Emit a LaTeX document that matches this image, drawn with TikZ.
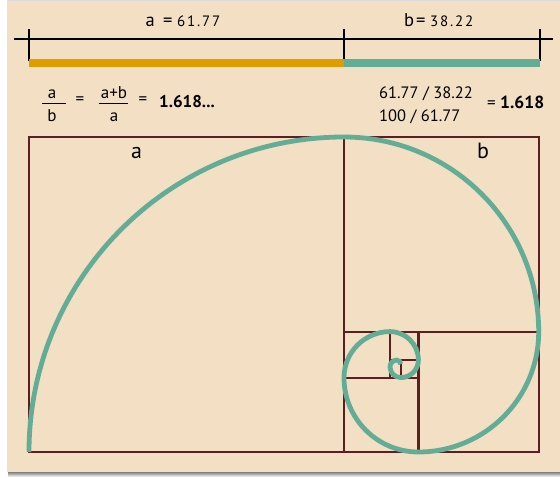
\documentclass[tikz,border=0pt]{standalone}
\usepackage{fontspec}
\setmainfont{PT Sans}
\usetikzlibrary{positioning}
\definecolor{paper}{RGB}{242,223,196}
\definecolor{gold}{RGB}{222,158,0}
\definecolor{sea}{RGB}{99,173,151}
\definecolor{maroon}{RGB}{92,30,34}
\definecolor{shade}{RGB}{208,202,208}
\newcommand{\fs}[1]{\fontsize{#1}{#1}\selectfont}
\newcommand{\wide}{\addfontfeature{LetterSpace=12}}

\begin{document}
\begin{tikzpicture}[x=1pt, y=-1pt, every node/.style={inner sep=0pt},
          sq/.style={draw=maroon, line width=2.2pt},
          spiral/.style={draw=sea, line width=4.8pt},
          tick/.style={draw=black, line width=1.7pt},
          bar/.style={line width=8pt},
          fbar/.style={draw=black, line width=0.9pt},
          num/.style={font=\fs{15}\wide},
          ltr/.style={font=\fs{18.5}},
          frc/.style={font=\fs{17}}]
  \useasboundingbox (0,0) rectangle (560,477);
  % paper
  \fill[shade] (8,472) rectangle (560,477);
  \fill[shade!70] (7,0) rectangle (560,1.2);
  \fill[paper] (7,1.2) rectangle (560,472);

  % ruler
  \coordinate (r0) at (29,39);
  \coordinate (r1) at (344,39);
  \coordinate (r2) at (540,39);
  \draw[tick] (14,39) -- (553,39);
  \foreach \p in {r0,r1,r2} \draw[tick] ([yshift=10]\p) -- ([yshift=-22]\p);
  \draw[bar, gold] ([yshift=-24]r0) -- ([yshift=-24]r1);
  \draw[bar, sea] ([yshift=-24]r1) -- ([yshift=-24]r2);

  \node[ltr, anchor=base west] (la) at (145.5,26) {a};
  \node[ltr, anchor=base west] (laeq) at (163,26) {=};
  \node[num, anchor=base west] (lav) at (177,26) {61.77};
  \node[ltr, anchor=base west] (lb) at (404,26) {b};
  \node[ltr, anchor=base west] (lbeq) at (416,26) {=};
  \node[num, anchor=base west] (lbv) at (430,26) {38.22};

  % ratios
  \node[frc, anchor=base] (fa) at (52,98) {a};
  \node[frc, anchor=base] (fb) at (52,121) {b};
  \coordinate (fl) at (42,103.3);
  \coordinate (fr) at (66,103.3);
  \draw[fbar] (fl) -- (fr);
  \node[frc] (e1) at (80,101) {=};
  \node[frc, anchor=base] (fab) at (114,98) {a+b};
  \node[frc, anchor=base] (fa2) at (114,121) {a};
  \coordinate (gl) at (99,103.5);
  \coordinate (gr) at (128,103.5);
  \draw[fbar] (gl) -- (gr);
  \node[frc] (e2) at (143,101) {=};
  \node[frc, anchor=base west, font=\fs{17}\bfseries] (phi1) at (159,107.3) {1.618...};
  \node[font=\fs{16.5}, anchor=base west] (q1) at (379,98) {61.77 / 38.22};
  \node[font=\fs{16.5}, anchor=base west] (q2) at (379,121) {100 / 61.77};
  \node[frc, anchor=base west] (e3) at (487,108) {=};
  \node[font=\fs{17.5}\bfseries, anchor=base west] (phi2) at (500,108) {1.618};

  % golden rectangle and its squares
  \draw[sq] (29,137) rectangle (538.7,452);
  \draw[sq] (344,137) -- (344,452);
  \draw[sq] (344,331.7) -- (538.7,331.7);
  \draw[sq] (418.4,331.7) -- (418.4,452);
  \draw[sq] (344,377.6) -- (418.4,377.6);
  \draw[sq] (390,331.7) -- (390,377.6);
  \draw[sq] (390,360.1) -- (418.4,360.1);
  \draw[sq] (400.8,360.1) -- (400.8,377.6);

  \node[font=\fs{22}, anchor=base west] (sa) at (131,158.3) {a};
  \node[font=\fs{22}, anchor=base west] (sb) at (477,158.3) {b};

  % spiral
  \draw[spiral] (29,452)
    arc[start angle=180, end angle=270, radius=315]
    arc[start angle=270, end angle=360, radius=194.7]
    arc[start angle=0, end angle=90, radius=120.3]
    arc[start angle=90, end angle=180, radius=74.4]
    arc[start angle=180, end angle=270, radius=46]
    arc[start angle=270, end angle=360, radius=28.4]
    arc[start angle=0, end angle=90, radius=17.6]
    arc[start angle=90, end angle=180, radius=10.8]
    arc[start angle=180, end angle=270, radius=6.7]
    arc[start angle=270, end angle=360, radius=4.1];
\end{tikzpicture}
\end{document}
